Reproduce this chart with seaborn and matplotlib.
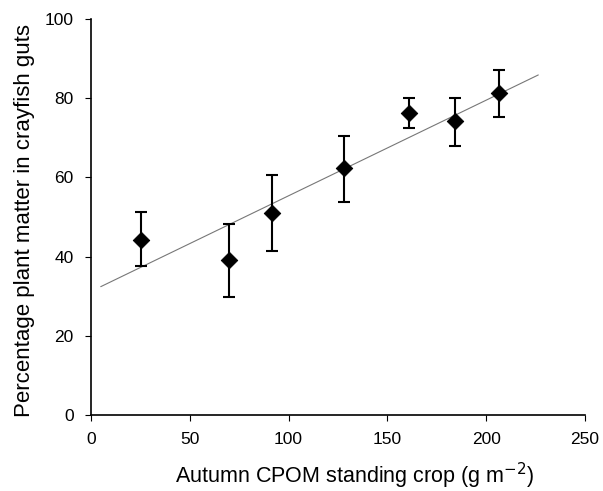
import numpy as np
import pandas as pd
import seaborn as sns
import matplotlib.pyplot as plt

# data
cpom = [25.3, 69.8, 91.8, 128.2, 160.9, 184.2, 206.5]
plant_pct = [44.2, 39.1, 50.9, 62.3, 76.4, 74.2, 81.4]
err_low = [37.6, 29.9, 41.5, 53.9, 72.6, 67.9, 75.3]
err_high = [51.3, 48.2, 60.6, 70.4, 80.2, 80.2, 87.1]

# fitted regression line end points
fit_x = [4.9, 226.4]
fit_y = [32.4, 85.9]

df = pd.DataFrame({"cpom": cpom, "pct": plant_pct})
fit = pd.DataFrame({"x": fit_x, "y": fit_y})

sns.set_style("ticks", {"axes.edgecolor": "black", "xtick.color": "black",
                        "ytick.color": "black", "text.color": "black",
                        "axes.labelcolor": "black"})
plt.rcParams["font.family"] = ["Liberation Sans", "DejaVu Sans"]

fig = plt.figure(figsize=(6.03, 4.91), dpi=100)
ax = fig.add_axes([0.151, 0.155, 0.819, 0.806])

sns.lineplot(data=fit, x="x", y="y", color="#777777", linewidth=0.8, ax=ax)

yerr = [np.array(plant_pct) - np.array(err_low), np.array(err_high) - np.array(plant_pct)]
ax.errorbar(cpom, plant_pct, yerr=yerr, fmt="none", ecolor="black",
            elinewidth=1.5, capsize=4, capthick=1.5, zorder=3)

sns.scatterplot(data=df, x="cpom", y="pct", marker="D", s=70, color="black",
                edgecolor="black", zorder=4, ax=ax)

ax.set_xlim(0, 250)
ax.set_ylim(0, 100)
ax.set_xticks(range(0, 251, 50))
ax.set_yticks(range(0, 101, 20))
ax.tick_params(labelsize=12.5, length=4.5, width=0.8, pad=8, colors="black")
ax.set_xlabel("Autumn CPOM standing crop (g m$^{-2}$)", fontsize=15.5)
ax.set_ylabel("Percentage plant matter in crayfish guts", fontsize=16)
ax.xaxis.set_label_coords(0.534, -0.115)
ax.yaxis.set_label_coords(-0.113, 0.49)
sns.despine(ax=ax)
for s in ["left", "bottom"]:
    ax.spines[s].set_linewidth(1.2)

plt.savefig("out.png", dpi=100)
plt.close()
